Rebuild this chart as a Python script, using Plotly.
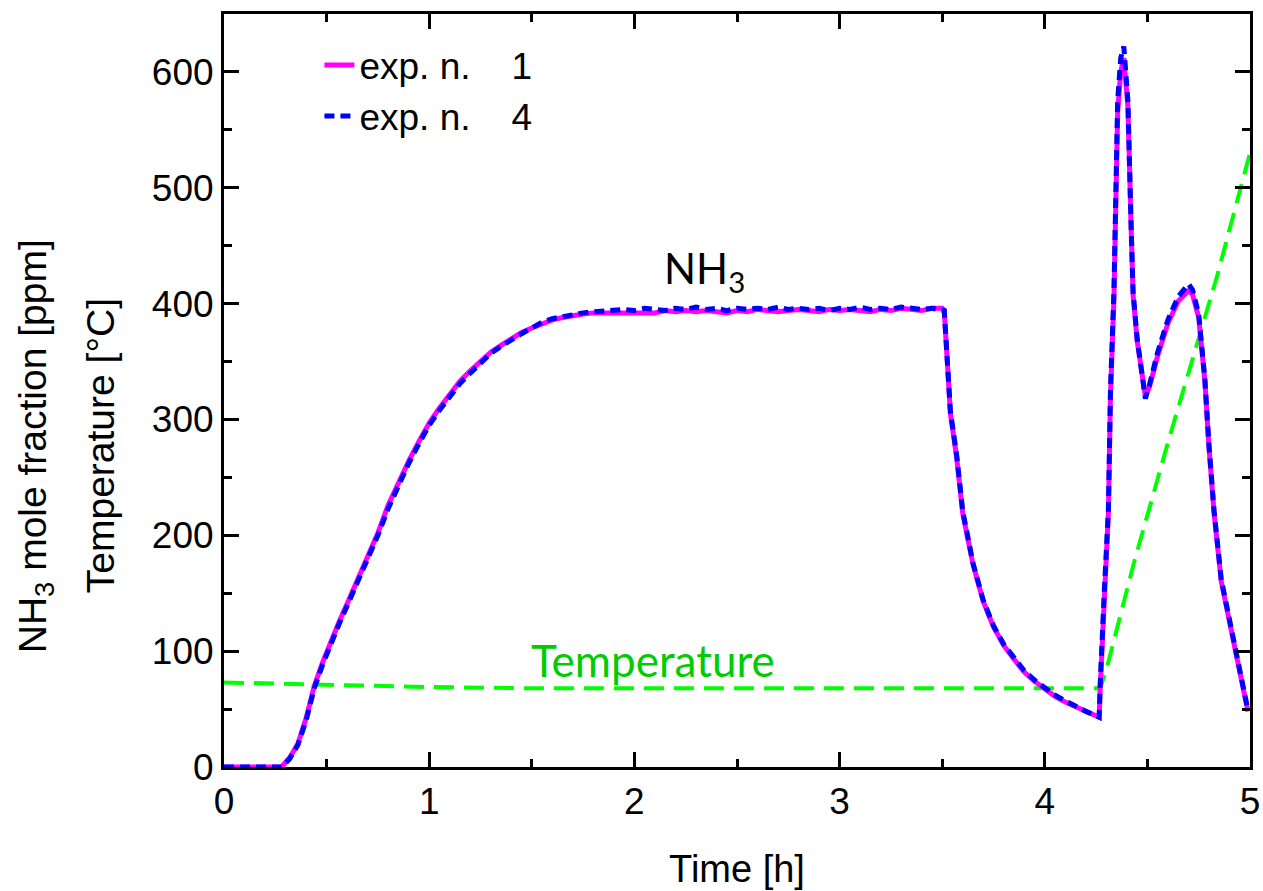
import plotly.graph_objects as go

# ---------------- data ----------------
time_exp1 = [0.0, 0.1, 0.2, 0.28, 0.32, 0.36, 0.40, 0.44, 0.48, 0.52, 0.56, 0.60, 0.65, 0.70, 0.75,
             0.80, 0.85, 0.90, 0.95, 1.00, 1.05, 1.10, 1.15, 1.20, 1.25, 1.30, 1.35, 1.40, 1.45,
             1.50, 1.55, 1.60, 1.65, 1.70, 1.75, 1.80, 1.85, 1.90, 1.95, 2.00, 2.05, 2.10, 2.15,
             2.20, 2.25, 2.30, 2.35, 2.40, 2.45, 2.50, 2.55, 2.60, 2.65, 2.70, 2.75, 2.80, 2.85,
             2.90, 2.95, 3.00, 3.05, 3.10, 3.15, 3.20, 3.25, 3.30, 3.35, 3.40, 3.45, 3.50, 3.51,
             3.54, 3.57, 3.60, 3.65, 3.70, 3.75, 3.80, 3.85, 3.90, 3.95, 4.00, 4.05, 4.10, 4.15,
             4.20, 4.265, 4.27, 4.29, 4.31, 4.32, 4.337, 4.355, 4.37, 4.385, 4.40, 4.405, 4.42,
             4.43, 4.45, 4.47, 4.49, 4.51, 4.55, 4.60, 4.65, 4.70, 4.72, 4.75, 4.78, 4.80, 4.825,
             4.86, 4.91, 4.95, 4.99]
nh3_exp1 = [0, 0, 0, 0, 8, 20, 42, 70, 90, 108, 125, 141, 161, 181, 202,
            226, 246, 264, 281, 297, 310, 322, 333, 342, 350, 358, 364, 370, 375,
            379, 383, 386, 388, 390, 391, 392, 392, 393, 392, 393, 393, 392, 394,
            393, 394, 393, 394, 393, 392, 394, 393, 395, 394, 393, 394, 395, 394,
            393, 395, 394, 395, 394, 393, 395, 394, 396, 395, 394, 396, 396, 394,
            305, 268, 219, 175, 143, 121, 105, 93, 82, 74, 67, 61, 56, 52,
            48, 43, 68, 150, 220, 320, 405, 565, 600, 612, 585, 570, 470,
            408, 368, 343, 320, 328, 355, 383, 402, 411, 408, 388, 333, 276, 219,
            160, 118, 85, 48]

time_exp4 = time_exp1
nh3_exp4 = [0, 0, 0, 0, 7, 19, 40, 68, 88, 106, 123, 139, 159, 179, 200,
            223, 243, 262, 279, 295, 308, 320, 331, 340, 349, 357, 363, 369, 374,
            379, 384, 387, 389, 391, 392, 393, 394, 394, 395, 394, 396, 395, 394,
            396, 395, 397, 395, 396, 394, 396, 395, 396, 395, 397, 395, 396, 395,
            396, 394, 396, 395, 397, 395, 396, 395, 397, 396, 395, 396, 395, 394,
            307, 270, 221, 176, 144, 122, 106, 94, 83, 75, 68, 62, 57, 52,
            48, 43, 72, 152, 222, 325, 411, 575, 612, 622, 590, 575, 472,
            411, 370, 345, 318, 330, 358, 386, 406, 417, 412, 391, 335, 278, 221,
            162, 120, 87, 49]

time_temp = [0.0, 0.5, 1.0, 1.5, 2.0, 3.0, 4.0, 4.27, 4.30, 4.434, 4.6, 4.7, 4.76, 4.84, 4.92, 5.0]
temp_c = [73, 71, 69, 68, 68, 68, 68, 68, 84, 176, 280, 340, 377, 424, 477, 530]

legend_names = ["exp. n.\u00a0\u00a0\u00a0\u00a01", "exp. n.\u00a0\u00a0\u00a0\u00a04"]
x_ticks = [0, 1, 2, 3, 4, 5]
y_ticks = [0, 100, 200, 300, 400, 500, 600]

# ---------------- figure ----------------
fig = go.Figure()
fig.add_trace(go.Scatter(x=time_temp, y=temp_c, mode="lines", showlegend=False,
                         line=dict(color="#00ff00", width=4, dash="20px,10px")))
fig.add_trace(go.Scatter(x=time_exp1, y=nh3_exp1, mode="lines", name=legend_names[0],
                         line=dict(color="#ff00ff", width=5)))
fig.add_trace(go.Scatter(x=time_exp4, y=nh3_exp4, mode="lines", name=legend_names[1],
                         line=dict(color="#0000ff", width=5, dash="10px,6px")))

axis_common = dict(showline=True, linewidth=3, linecolor="black", mirror="allticks",
                   ticks="inside", ticklen=15, tickwidth=3, tickcolor="black",
                   showgrid=False, zeroline=False, automargin=False,
                   tickfont=dict(family="Arial, Liberation Sans", size=37, color="black"))

fig.update_xaxes(range=[0, 5], tickvals=x_ticks, ticktext=[str(v) for v in x_ticks],
                 minor=dict(dtick=0.5, ticks="inside", ticklen=8, tickwidth=3, tickcolor="black"),
                 title=dict(text="Time [h]", font=dict(family="Arial, Liberation Sans", size=38, color="black"),
                            standoff=34),
                 **axis_common)
fig.update_yaxes(range=[0, 650], tickvals=y_ticks, ticktext=[str(v) for v in y_ticks],
                 minor=dict(dtick=50, ticks="inside", ticklen=8, tickwidth=3, tickcolor="black"),
                 **axis_common)

title_font = dict(family="Arial, Liberation Sans", size=39, color="black")
fig.add_annotation(xref="paper", yref="paper", x=0, y=0.426, xshift=-189, textangle=-90,
                   text="NH<sub>3</sub> mole fraction [ppm]", showarrow=False, font=title_font,
                   xanchor="center", yanchor="middle")
fig.add_annotation(xref="paper", yref="paper", x=0, y=0.426, xshift=-124, textangle=-90,
                   text="Temperature [°C]", showarrow=False, font=title_font,
                   xanchor="center", yanchor="middle")

fig.add_annotation(x=2.34, y=428, text="NH<sub>3</sub>", showarrow=False,
                   font=dict(family="Lato, Open Sans", size=42, color="black"))
fig.add_annotation(x=2.09, y=92, text="Temperature", showarrow=False,
                   font=dict(family="Lato, Open Sans", size=44, color="#00cc00"))

fig.update_layout(
    width=1263, height=891,
    margin=dict(l=224, r=13, t=14, b=124, autoexpand=False),
    paper_bgcolor="white", plot_bgcolor="white",
    legend=dict(x=0.093, y=0.973, xanchor="left", yanchor="top",
                bgcolor="rgba(0,0,0,0)", font=dict(family="Arial, Liberation Sans", size=37, color="black"),
                tracegroupgap=0, itemwidth=30),
)

fig.write_html("out.html", config={"displayModeBar": False},
               post_script="document.body.style.margin='0';document.body.style.overflow='hidden';")
